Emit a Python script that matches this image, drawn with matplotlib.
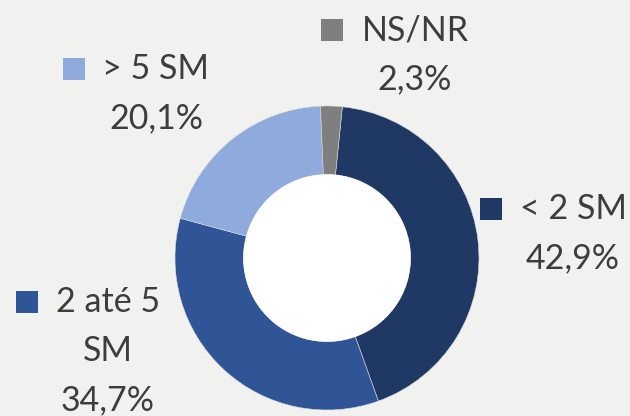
import matplotlib
matplotlib.use("Agg")
import matplotlib.pyplot as plt
from matplotlib.patches import Circle, Rectangle

# Income bands (in minimum wages) and their share of respondents
categories = ["< 2 SM", "2 até 5\nSM", "> 5 SM", "NS/NR"]
shares = [42.9, 34.7, 20.1, 2.3]
colors = ["#203864", "#2f5597", "#8faadc", "#7f7f7f"]

# label anchors in pixels (text block centre x, first line centre y)
label_pos = [(573, 209), (108, 302), (156, 69), (415, 30)]

W, H = 630, 416
BG = "#f1f1f0"
TEXT = "#3d3d3d"

plt.rcParams["font.family"] = ["Lato", "DejaVu Sans"]

fig = plt.figure(figsize=(W / 100, H / 100), dpi=100, facecolor=BG)

# donut: centre (327, 258) px, outer radius 152 px
cx, cy, r = 327, 258, 152
ax = fig.add_axes([(cx - r) / W, (H - cy - r) / H, 2 * r / W, 2 * r / H])
ax.set_facecolor("none")
ax.pie(
    shares,
    colors=colors,
    startangle=90 - 5.8,
    counterclock=False,
    radius=1.0,
    wedgeprops=dict(width=0.45, edgecolor="#d9d9d9", linewidth=0.4),
)
ax.add_patch(Circle((0, 0), 0.55, facecolor="white", edgecolor="none", zorder=5))
ax.set_xlim(-1, 1)
ax.set_ylim(-1, 1)
ax.set_aspect("equal")
ax.axis("off")

fs = 24.5
line_h = 49
for name, val, col, (x, y) in zip(categories, shares, colors, label_pos):
    lines = name.split("\n") + [f"{val:.1f}%".replace(".", ",")]
    texts = []
    for i, ln in enumerate(lines):
        t = fig.text(x / W, 1 - (y + i * line_h) / H, ln, ha="center",
                     va="center", fontsize=fs, color=TEXT)
        texts.append(t)
    # legend key square left of the first line
    fig.canvas.draw()
    bb = texts[0].get_window_extent()
    sq = 22
    left = bb.x0 - 18 - sq
    fig.add_artist(Rectangle((left / W, (H - y - sq / 2) / H), sq / W, sq / H,
                             transform=fig.transFigure, facecolor=col,
                             edgecolor="none"))

fig.savefig("out.png", dpi=100, facecolor=BG)
